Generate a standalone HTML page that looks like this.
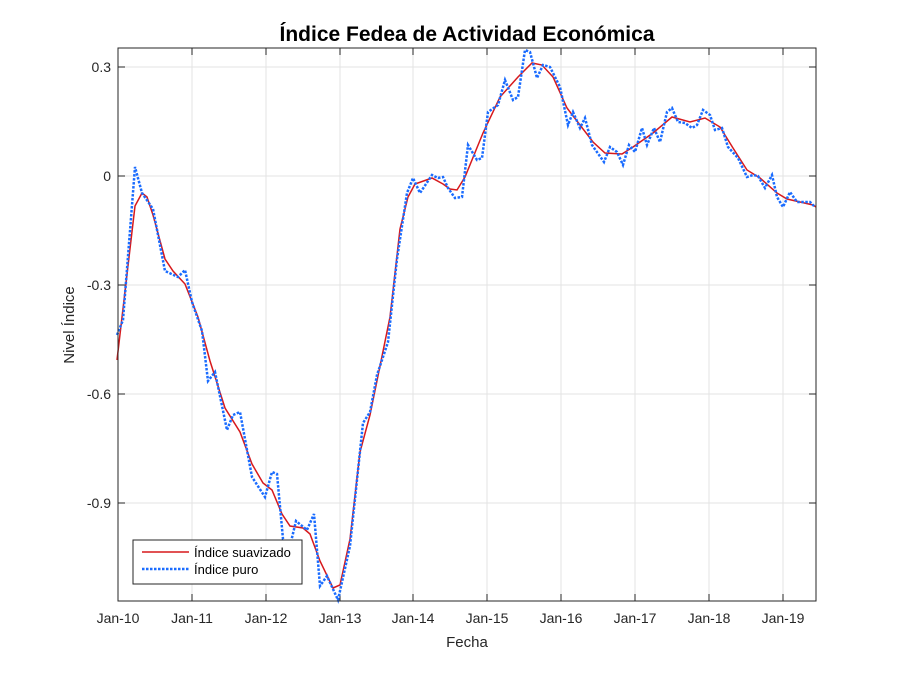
<!DOCTYPE html>
<html><head><meta charset="utf-8"><style>body{margin:0;background:#fff}svg{display:block}</style></head><body>
<svg width="900" height="675" xmlns="http://www.w3.org/2000/svg" font-family="Liberation Sans, Arial, sans-serif">
<rect width="900" height="675" fill="#fff"/>
<g stroke="#e3e3e3" stroke-width="1">
<line x1="192" y1="48" x2="192" y2="601"/><line x1="266" y1="48" x2="266" y2="601"/><line x1="340" y1="48" x2="340" y2="601"/><line x1="413" y1="48" x2="413" y2="601"/><line x1="487" y1="48" x2="487" y2="601"/><line x1="561" y1="48" x2="561" y2="601"/><line x1="635" y1="48" x2="635" y2="601"/><line x1="709" y1="48" x2="709" y2="601"/><line x1="783" y1="48" x2="783" y2="601"/>
<line x1="118" y1="67" x2="816" y2="67"/><line x1="118" y1="176" x2="816" y2="176"/><line x1="118" y1="285" x2="816" y2="285"/><line x1="118" y1="394" x2="816" y2="394"/><line x1="118" y1="503" x2="816" y2="503"/>
</g>
<g stroke="#262626" stroke-width="1">
<line x1="192" y1="601" x2="192" y2="594"/><line x1="266" y1="601" x2="266" y2="594"/><line x1="340" y1="601" x2="340" y2="594"/><line x1="413" y1="601" x2="413" y2="594"/><line x1="487" y1="601" x2="487" y2="594"/><line x1="561" y1="601" x2="561" y2="594"/><line x1="635" y1="601" x2="635" y2="594"/><line x1="709" y1="601" x2="709" y2="594"/><line x1="783" y1="601" x2="783" y2="594"/>
<line x1="192" y1="48" x2="192" y2="55"/><line x1="266" y1="48" x2="266" y2="55"/><line x1="340" y1="48" x2="340" y2="55"/><line x1="413" y1="48" x2="413" y2="55"/><line x1="487" y1="48" x2="487" y2="55"/><line x1="561" y1="48" x2="561" y2="55"/><line x1="635" y1="48" x2="635" y2="55"/><line x1="709" y1="48" x2="709" y2="55"/><line x1="783" y1="48" x2="783" y2="55"/>
<line x1="118" y1="67" x2="125" y2="67"/><line x1="118" y1="176" x2="125" y2="176"/><line x1="118" y1="285" x2="125" y2="285"/><line x1="118" y1="394" x2="125" y2="394"/><line x1="118" y1="503" x2="125" y2="503"/>
<line x1="816" y1="67" x2="809" y2="67"/><line x1="816" y1="176" x2="809" y2="176"/><line x1="816" y1="285" x2="809" y2="285"/><line x1="816" y1="394" x2="809" y2="394"/><line x1="816" y1="503" x2="809" y2="503"/>
</g>
<polyline fill="none" stroke="#d7191c" stroke-width="1.5" points="117,360 135,206 142,193 147,197 153,215 165,259 173,271 185,284 198,317 210,361 225,408 240,432 252,464 263,483 272,490 282,514 290,526 303,528 310,534 320,561 333,588 340,585 350,539 360,452 370,415 390,317 400,229 408,197 415,184 432,178 443,184 450,189 457,190 465,177 483,133 500,97 518,77 532,63 542,65 553,77 567,108 580,125 593,142 605,153 622,154 633,147 653,133 672,117 690,122 705,118 720,127 733,148 747,170 760,178 777,193 787,199 800,202 813,205 816,207"/>
<polyline fill="none" stroke="#1a6cff" stroke-width="2.5" stroke-dasharray="2.5,1.5" points="117,335 123,320 135,167 142,193 153,209 165,271 178,277 185,270 192,302 202,331 208,381 215,372 227,430 233,415 240,412 252,477 265,497 272,472 277,474 283,539 290,546 296,521 307,530 314,514 320,586 327,576 338,600 350,546 363,423 370,412 377,375 388,342 397,259 407,193 413,178 420,193 432,175 438,178 443,177 448,188 455,198 462,197 468,145 477,160 482,158 488,112 498,105 505,80 513,100 518,97 525,50 530,52 537,78 543,65 550,67 560,87 568,125 573,112 580,128 585,118 592,145 604,162 610,147 617,152 623,165 629,145 635,152 642,128 647,145 654,128 660,142 667,112 672,108 678,122 685,123 692,128 697,125 703,110 710,115 715,130 722,128 728,147 738,158 747,177 753,175 758,176 765,188 772,175 777,197 783,207 790,192 797,202 810,202 815,207"/>
<rect x="118" y="48" width="698" height="553" fill="none" stroke="#262626" stroke-width="1"/>
<g font-size="14" fill="#262626">
<g text-anchor="middle">
<text x="118" y="623">Jan-10</text><text x="192" y="623">Jan-11</text><text x="266" y="623">Jan-12</text><text x="340" y="623">Jan-13</text><text x="413" y="623">Jan-14</text><text x="487" y="623">Jan-15</text><text x="561" y="623">Jan-16</text><text x="635" y="623">Jan-17</text><text x="709" y="623">Jan-18</text><text x="783" y="623">Jan-19</text>
</g>
<g text-anchor="end">
<text x="111" y="72">0.3</text><text x="111" y="181">0</text><text x="111" y="290">-0.3</text><text x="111" y="399">-0.6</text><text x="111" y="508">-0.9</text>
</g>
<text x="467" y="647" text-anchor="middle" font-size="15">Fecha</text>
<text transform="translate(74,325) rotate(-90)" text-anchor="middle" font-size="15">Nivel Índice</text>
</g>
<text x="467" y="41" text-anchor="middle" font-size="21" font-weight="bold" fill="#000">Índice Fedea de Actividad Económica</text>
<rect x="133" y="540" width="169" height="44" fill="#fff" stroke="#262626" stroke-width="1"/>
<line x1="142" y1="552" x2="189" y2="552" stroke="#d7191c" stroke-width="1.5"/>
<line x1="142" y1="569" x2="189" y2="569" stroke="#1a6cff" stroke-width="2.5" stroke-dasharray="2.5,1.5"/>
<text x="194" y="557" font-size="13" fill="#000">Índice suavizado</text>
<text x="194" y="574" font-size="13" fill="#000">Índice puro</text>
</svg>
</body></html>
